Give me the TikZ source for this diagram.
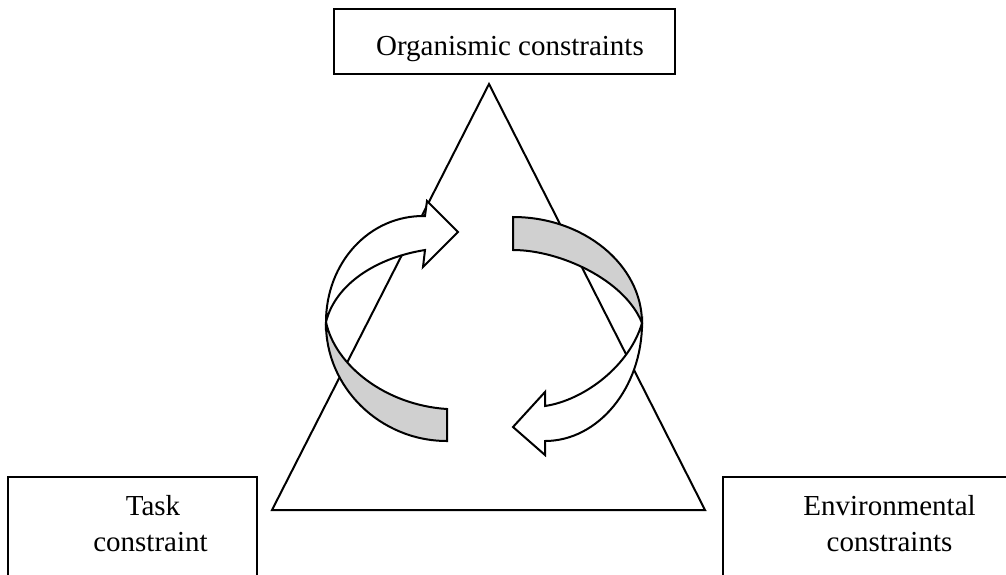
\documentclass[tikz,border=0pt]{standalone}
\usepackage{fontspec}
\setmainfont{Liberation Serif}
\definecolor{ribbongrey}{RGB}{208,208,208}
\begin{document}
\begin{tikzpicture}[x=1pt,y=-1pt,
  frame/.style={draw=black, line width=2pt, fill=white, inner sep=0pt},
  lbl/.style={font=\fontsize{29}{36}\selectfont, anchor=base, inner sep=0pt},
  ribbon/.style={draw=black, line width=2pt, line join=miter},
  ]
\useasboundingbox (0,0) rectangle (1006,574);
\fill[white] (0,0) rectangle (1006,574);

% central triangle
\draw[line width=2pt, line join=miter] (489,84) -- (272,510) -- (705,510) -- cycle;

% constraint boxes
\node[frame, minimum width=341pt, minimum height=65pt] (org) at (504.5,41.5) {};
\node[frame, minimum width=249pt, minimum height=123pt] (task) at (132.5,538.5) {};
\node[frame, minimum width=297pt, minimum height=123pt] (env) at (871.5,538.5) {};

\node[lbl] (orgtext) at (510,55) {Organismic constraints};
\node[lbl] (task1) at (153,515) {Task};
\node[lbl] (task2) at (150.5,551) {constraint};
\node[lbl] (env1) at (889.5,515) {Environmental};
\node[lbl] (env2) at (889.5,551) {constraints};

% left twisted arrow: white front part with head, grey back part
\draw[ribbon, fill=white] (425,216) -- (427,201) -- (458,232) -- (423,267) -- (425,250)
  .. controls (375,258) and (335,285) .. (326,322)
  .. controls (326,263) and (369,215) .. (425,216) -- cycle;
\draw[ribbon, fill=ribbongrey] (326,322) .. controls (335,365) and (385,405) .. (447,409)
  -- (447,441) .. controls (380,441) and (325,387) .. (326,322) -- cycle;

% right twisted arrow: grey back part, white front part with head
\draw[ribbon, fill=ribbongrey] (513,217) .. controls (584,217) and (642,265) .. (642,323)
  .. controls (625,280) and (560,250) .. (513,250) -- cycle;
\draw[ribbon, fill=white] (642,323) .. controls (642,388) and (598,441) .. (545,441)
  -- (545,455) -- (513,427) -- (545,392) -- (545,406)
  .. controls (585,400) and (630,365) .. (642,323) -- cycle;
\end{tikzpicture}
\end{document}
